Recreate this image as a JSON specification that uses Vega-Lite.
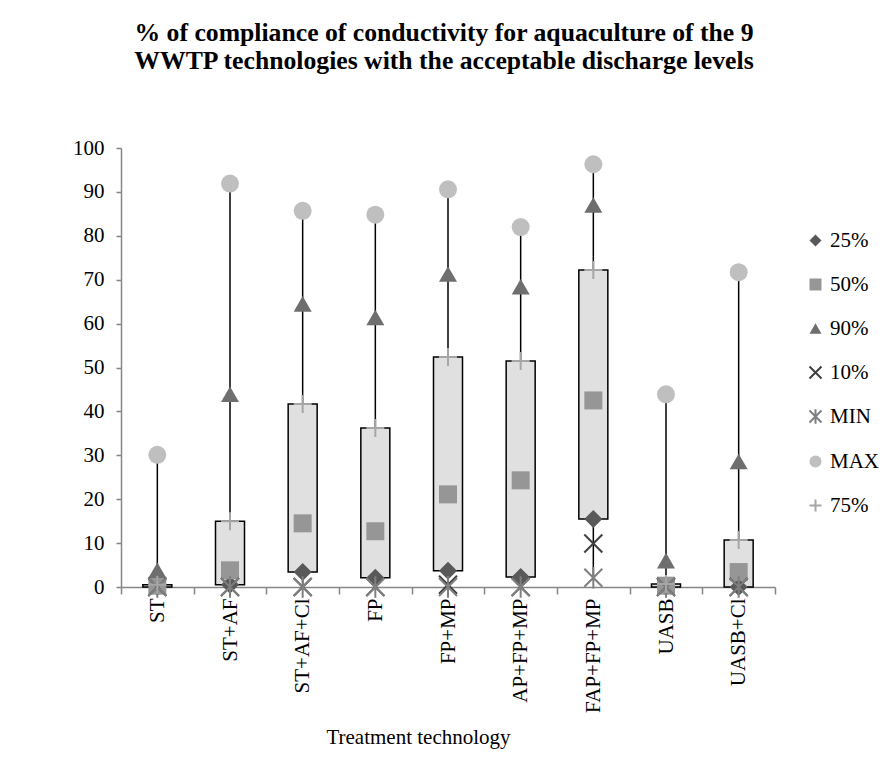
{
  "$schema": "https://vega.github.io/schema/vega-lite/v6.json",
  "width": 654,
  "height": 439,
  "autosize": {"type": "none"},
  "padding": {"left": 121, "top": 148, "right": 117, "bottom": 176},
  "background": "white",
  "title": {
    "text": ["% of compliance of conductivity for aquaculture of the 9", "WWTP technologies with the acceptable discharge levels"],
    "font": "Liberation Serif",
    "fontSize": 25.7,
    "fontWeight": "bold",
    "color": "black",
    "anchor": "middle",
    "frame": "group",
    "baseline": "bottom",
    "lineHeight": 28,
    "offset": 37,
    "dx": -4
  },
  "data": {
    "values": [
      {"tech": "ST", "MIN": 0, "10%": 0, "25%": 0, "50%": 0.3, "75%": 0.5, "90%": 3.8, "MAX": 30.1},
      {"tech": "ST+AF", "MIN": 0, "10%": 0, "25%": 0.5, "50%": 3.8, "75%": 15.0, "90%": 43.9, "MAX": 91.9},
      {"tech": "ST+AF+Cl", "MIN": 0, "10%": 0, "25%": 3.4, "50%": 14.5, "75%": 41.7, "90%": 64.5, "MAX": 85.7},
      {"tech": "FP", "MIN": 0, "10%": 0, "25%": 2.1, "50%": 12.7, "75%": 36.2, "90%": 61.4, "MAX": 84.8},
      {"tech": "FP+MP", "MIN": 0, "10%": 0.5, "25%": 3.7, "50%": 21.1, "75%": 52.4, "90%": 71.3, "MAX": 90.6},
      {"tech": "AP+FP+MP", "MIN": 0, "10%": 0, "25%": 2.3, "50%": 24.3, "75%": 51.5, "90%": 68.4, "MAX": 82.0},
      {"tech": "FAP+FP+MP", "MIN": 2.1, "10%": 9.9, "25%": 15.5, "50%": 42.5, "75%": 72.2, "90%": 87.0, "MAX": 96.3},
      {"tech": "UASB", "MIN": 0, "10%": 0, "25%": 0, "50%": 0.3, "75%": 0.7, "90%": 6.0, "MAX": 43.9},
      {"tech": "UASB+Cl", "MIN": 0, "10%": 0, "25%": 0, "50%": 3.4, "75%": 10.7, "90%": 28.6, "MAX": 71.7}
    ]
  },
  "encoding": {
    "x": {
      "field": "tech",
      "type": "nominal",
      "sort": null,
      "scale": {"paddingInner": 0, "paddingOuter": 0},
      "axis": {
        "labelAngle": -90,
        "tickBand": "extent",
        "tickSize": 7,
        "labelPadding": 4,
        "title": "Treatment technology",
        "titleX": 297,
        "titleY": 156,
        "titleBaseline": "alphabetic"
      }
    }
  },
  "layer": [
    {
      "mark": {"type": "rule", "color": "black", "strokeWidth": 1.5},
      "encoding": {
        "y": {
          "field": "MIN",
          "type": "quantitative",
          "scale": {"domain": [0, 100], "nice": false},
          "axis": {"title": null, "values": [0, 10, 20, 30, 40, 50, 60, 70, 80, 90, 100], "tickSize": 5, "labelPadding": 12}
        },
        "y2": {"field": "MAX"}
      }
    },
    {
      "mark": {"type": "bar", "fill": "#e0e0e0", "stroke": "black", "strokeWidth": 1.5, "size": 29},
      "encoding": {
        "y": {"field": "25%", "type": "quantitative"},
        "y2": {"field": "75%"}
      }
    },
    {
      "transform": [
        {"fold": ["25%", "50%", "90%", "10%", "MIN", "MAX", "75%"], "as": ["series", "value"]}
      ],
      "mark": {"type": "point", "filled": true, "opacity": 1, "strokeWidth": 2, "size": 324},
      "encoding": {
        "y": {"field": "value", "type": "quantitative"},
        "shape": {
          "field": "series",
          "type": "nominal",
          "scale": {
            "domain": ["25%", "50%", "90%", "10%", "MIN", "MAX", "75%"],
            "range": ["diamond", "square", "triangle-up", "M-1,-1L1,1M-1,1L1,-1", "M-1,-1L1,1M-1,1L1,-1M0,-1.2L0,1.2", "circle", "M-1,0L1,0M0,-1L0,1"]
          },
          "legend": {"title": null}
        },
        "fill": {
          "field": "series",
          "type": "nominal",
          "scale": {
            "domain": ["25%", "50%", "90%", "10%", "MIN", "MAX", "75%"],
            "range": ["#595959", "#969696", "#6e6e6e", "transparent", "transparent", "#bfbfbf", "transparent"]
          },
          "legend": {"title": null}
        },
        "stroke": {
          "field": "series",
          "type": "nominal",
          "scale": {
            "domain": ["25%", "50%", "90%", "10%", "MIN", "MAX", "75%"],
            "range": ["transparent", "transparent", "transparent", "#404040", "#7f7f7f", "transparent", "#a6a6a6"]
          },
          "legend": {"title": null}
        }
      }
    }
  ],
  "config": {
    "font": "Liberation Serif",
    "view": {"stroke": null},
    "axis": {
      "grid": false,
      "domainColor": "#868686",
      "domainWidth": 1.5,
      "tickColor": "#868686",
      "tickWidth": 1.5,
      "labelFont": "Liberation Serif",
      "labelFontSize": 21,
      "labelColor": "black",
      "titleFont": "Liberation Serif",
      "titleFontSize": 21,
      "titleFontWeight": "normal",
      "titleColor": "black"
    },
    "legend": {
      "orient": "none",
      "legendX": 684,
      "legendY": 82,
      "padding": 0,
      "rowPadding": 22,
      "labelFont": "Liberation Serif",
      "labelFontSize": 21,
      "labelColor": "black",
      "labelOffset": 4,
      "symbolSize": 144,
      "symbolStrokeWidth": 2
    }
  }
}
